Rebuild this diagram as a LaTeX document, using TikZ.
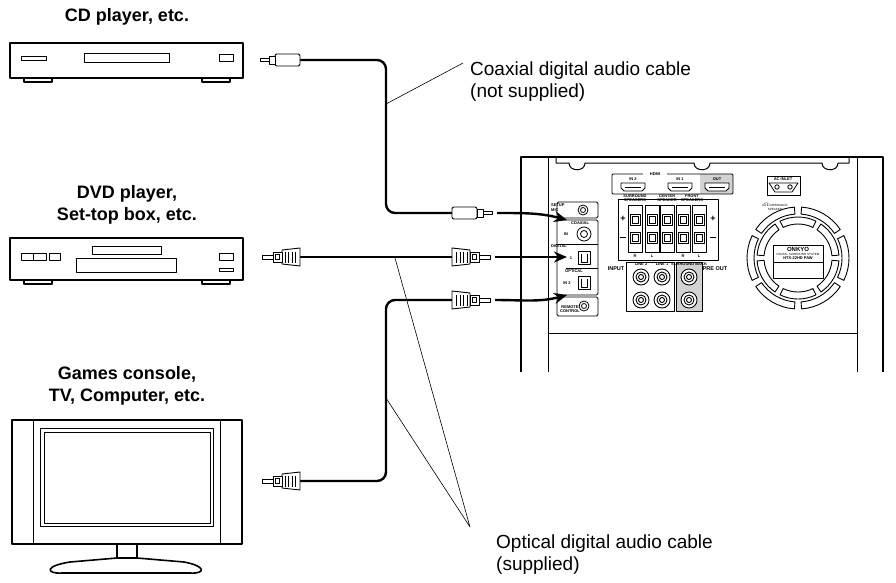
\documentclass[tikz,border=0pt]{standalone}
\usepackage{fontspec}
\setmainfont{Liberation Sans}
\usetikzlibrary{arrows.meta}
\begin{document}
\begin{tikzpicture}[x=1pt,y=-1pt,line join=round,
  dev/.style={line width=1.6pt},
  leader/.style={line width=0.6pt},
  cable/.style={line width=2.4pt,rounded corners=9pt},
  arr/.style={line width=2.4pt,-{Stealth[length=13pt,width=11pt]}},
  lbl/.style={font=\fontsize{18}{22}\selectfont\bfseries,align=center},
  captxt/.style={font=\fontsize{19}{22}\selectfont,align=left,anchor=west,inner sep=0pt},
  tiny/.style={font=\fontsize{4}{4.5}\selectfont\bfseries,inner sep=0pt},
  optplug/.pic={\draw[line width=0.9pt,fill=white] (0,-9) -- (18,-7) -- (18,7) -- (0,9) -- cycle;
    \foreach \s in {4.5,8,11.5,15} \draw[line width=0.7pt] (\s,-5.5) -- (\s,5.5);
    \draw[line width=0.9pt,fill=white] (18,-5) rectangle (27,5) (20.5,-2.5) rectangle (24.5,2.5);
    \draw[line width=0.9pt,fill=white] (27,-2) rectangle (38,2);},
  coaxplug/.pic={\draw[line width=0.9pt,fill=white,rounded corners=2pt] (0,-6) rectangle (25,6);
    \draw[line width=0.9pt,fill=white] (25,-4) rectangle (31,4) (31,-1.8) rectangle (40,1.8);}]
\useasboundingbox (0,0) rectangle (896,582);
% labels
\node[lbl] (lcd) at (127,17) {CD player, etc.};
\node[lbl] (ldvd) at (127,205) {DVD player,\\Set-top box, etc.};
\node[lbl] (ltv) at (127,386) {Games console,\\TV, Computer, etc.};
\node[captxt] (lcoax) at (470,82) {Coaxial digital audio cable\\(not supplied)};
\node[captxt] (lopt) at (496,555) {Optical digital audio cable\\(supplied)};
% CD player
\draw[dev] (10,43) rectangle (243,78);
\draw[dev] (24,78) rectangle (52,82) (202,78) rectangle (230,82);
\draw[line width=0.9pt] (84,53) rectangle (169,62) (21,56) rectangle (46,60) (219,54) rectangle (233,61);
% DVD
\draw[dev] (10,238) rectangle (243,280);
\draw[dev] (24,280) rectangle (52,284) (202,280) rectangle (230,284);
\draw[line width=0.9pt] (92,246) rectangle (161,254) (76,258) rectangle (176,272)
  (21,253) rectangle (33,260) (33,253) rectangle (46,260) (49,253) rectangle (60,260)
  (219,253) rectangle (233,260) (219,268) rectangle (233,271);
% TV
\draw[dev] (12,420) rectangle (242,544);
\draw[line width=0.8pt] (33,420) -- (33,544) (220,420) -- (220,544);
\draw[line width=0.9pt] (40,428) rectangle (213,526) (44,432) rectangle (210,523);
\draw[dev] (117,544) rectangle (137,558);
\draw[dev] (117,558) -- (70,562) .. controls (44,566) and (46,574) .. (62,573) -- (190,573) .. controls (206,574) and (206,566) .. (184,562) -- (137,558);
% cables
\coordinate (c1) at (300,60); \coordinate (c2) at (452,213);
\draw[cable] (c1) -| (386,213) -- (c2);
\coordinate (d1) at (300,257); \coordinate (d2) at (452,257);
\draw[cable] (d1) -- (d2);
\coordinate (t1) at (300,481); \coordinate (t2) at (452,300);
\draw[cable] (t1) -| (386,300) -- (t2);
\pic[xscale=-1] at (c1) {coaxplug};
\pic at (c2) {coaxplug};
\pic[xscale=-1] at (d1) {optplug};
\pic at (d2) {optplug};
\pic[xscale=-1] at (t1) {optplug};
\pic at (t2) {optplug};
\coordinate (jc) at (567,220); \coordinate (jd) at (567,257); \coordinate (jt) at (567,295);
\draw[arr] (497,213) to[out=0,in=165] (jc);
\draw[arr] (495,257) -- (jd);
\draw[arr] (495,300) to[out=0,in=-165] (jt);
% leaders
\draw[leader] (386,104) -- (463,63);
\draw[leader] (395,258) -- (470,527) -- (386,398);
% receiver
\draw[line width=1.8pt] (521,372) -- (521,157) -- (883,157) -- (883,372);
\draw[line width=1pt] (548,372) -- (548,157) (857,372) -- (857,157) (548,333) -- (857,333);
\draw[line width=1pt] (556,157) -- (556,163) -- (569,163) .. controls (569,172) and (585,172) .. (585,163)
  -- (694,163) .. controls (694,172) and (710,172) .. (710,163)
  -- (822,163) .. controls (822,172) and (838,172) .. (838,163) -- (849,163) -- (849,157);
% left jack panel
\draw[line width=0.8pt,rounded corners=1.5pt] (557,202) rectangle (598,218) (557,220) rectangle (598,295) (557,297) rectangle (598,316);
\draw[line width=0.8pt] (583,210) circle (5) (583,210) circle (2.5);
\draw[line width=0.8pt] (584,234) circle (7) (584,234) circle (3.5);
\draw[line width=0.8pt] (584,306) circle (5) (584,306) circle (2.5);
\draw[line width=0.8pt] (556,244) -- (598,244) (566,268) -- (598,268);
\draw[line width=0.8pt] (578,251) rectangle (590,264) (581,254) -- (581,262) -- (587,262) -- (587,254);
\draw[line width=0.8pt] (578,276) rectangle (590,289) (581,279) -- (581,287) -- (587,287) -- (587,279);
\node[tiny,anchor=west] at (551,205) {SETUP};
\node[tiny,anchor=west] at (551,210) {MIC};
\node[tiny] at (580,223) {COAXIAL};
\node[tiny] at (566,234) {IN};
\node[tiny,anchor=west] at (551,246) {DIGITAL};
\node[tiny] at (571,258) {1};
\node[tiny] at (574,271) {OPTICAL};
\node[tiny] at (567,283) {IN 2};
\node[tiny,align=center] at (570,309) {REMOTE\\CONTROL};
% HDMI
\fill[gray!35] (700,174) rectangle (733,194);
\draw[line width=0.8pt,rounded corners=1pt] (612,174) rectangle (733,194);
\fill[white] (643,171) rectangle (667,176);
\node[tiny] at (655,174) {HDMI};
\foreach \x/\t in {633/IN 2,680/IN 1,717/OUT}{
  \node[tiny] at (\x,179) {\t};
  \draw[line width=0.9pt,fill=white] (\x-12,183) -- (\x+12,183) -- (\x+12,188) -- (\x+9,191) -- (\x-9,191) -- (\x-12,188) -- cycle;
  \draw[line width=0.4pt] (\x-8,187) -- (\x+8,187);}
% AC inlet
\draw[line width=0.8pt] (767,176) rectangle (800,195);
\node[tiny] at (783,179) {AC INLET};
\draw[line width=0.8pt] (769,183) -- (775,192) -- (792,192) -- (798,183) -- cycle;
\draw[line width=0.8pt] (777,187) circle (2.2) (790,187) circle (2.2);
\node[tiny,align=center,font=\fontsize{3}{3.5}\selectfont] at (775,207) {6$\Omega$ IMPEDANCE\\SPEAKER};
% speaker terminals
\draw[line width=0.8pt] (618,199) rectangle (718,260);
\node[tiny,align=center] at (635,198) {SURROUND\\SPEAKERS};
\node[tiny,align=center] at (667,198) {CENTER\\SPEAKER};
\node[tiny,align=center] at (692,198) {FRONT\\SPEAKERS};
\foreach \x in {635,652,667,683,699}{
  \draw[line width=0.8pt] (\x-7,205) rectangle (\x+7,252);
  \draw[line width=0.8pt] (\x-5,214) rectangle (\x+5,225) (\x-3,216) rectangle (\x+3,223);
  \draw[line width=0.8pt] (\x-5,232) rectangle (\x+5,243) (\x-3,234) rectangle (\x+3,241);}
\node[font=\fontsize{9}{9}\selectfont\bfseries] at (623,219) {+};
\node[font=\fontsize{9}{9}\selectfont\bfseries] at (713,219) {+};
\draw[line width=0.8pt] (620,237) -- (626,237) (710,237) -- (716,237);
\foreach \x/\t in {635/R,652/L,683/R,699/L} \node[tiny] at (\x,256) {\t};
% input / preout
\fill[gray!35] (676,262) rectangle (702,311);
\draw[line width=0.8pt] (626,262) rectangle (674,311) (676,262) rectangle (702,311);
\node[tiny] at (641,264) {LINE 2}; \node[tiny] at (662,264) {LINE 1};
\node[tiny] at (689,264) {SURROUND BACK};
\node[tiny,font=\fontsize{5.5}{6}\selectfont\bfseries] at (616,269) {INPUT};
\node[tiny,font=\fontsize{5.5}{6}\selectfont\bfseries] at (715,269) {PRE OUT};
\foreach \x in {641,662,689} \foreach \y in {277,300}{
  \draw[line width=0.9pt,fill=white] (\x,\y) circle (8); \draw[line width=0.9pt] (\x,\y) circle (5) (\x,\y) circle (2.5);}
% fan
\begin{scope}[shift={(798,258)}]
\foreach \a in {0,60,...,300}{
  \draw[line width=0.9pt] (\a+4:34) arc (\a+4:\a+56:34) -- (\a+56:41) arc (\a+56:\a+4:41) -- cycle;
  \draw[line width=0.9pt] (\a+34:44) arc (\a+34:\a+86:44) -- (\a+86:51) arc (\a+86:\a+34:51) -- cycle;}
\end{scope}
\draw[line width=0.9pt,fill=white] (773,245) rectangle (823,278);
\draw[line width=0.5pt] (773,262) -- (823,262);
\node[tiny,font=\fontsize{6}{6}\selectfont\bfseries] at (798,249) {ONKYO};
\node[tiny,font=\fontsize{3}{3}\selectfont] at (798,254) {DIGITAL SURROUND SYSTEM};
\node[tiny] at (798,258) {HTX-22HD PAW};
\end{tikzpicture}
\end{document}
